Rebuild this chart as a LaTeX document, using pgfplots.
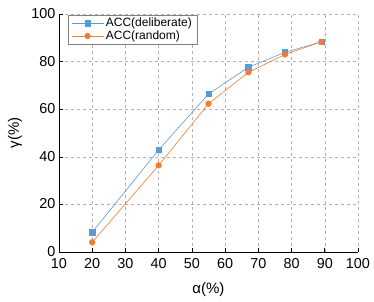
\documentclass[border=0pt]{standalone}
\usepackage{pgfplots}
\pgfplotsset{compat=1.18}
\usepackage{fontspec}
\setmainfont{Liberation Sans}
\definecolor{cblue}{RGB}{91,155,213}
\definecolor{corange}{RGB}{237,125,49}
\begin{document}
\begin{tikzpicture}
\begin{axis}[
  scale only axis,
  width=299pt, height=238pt,
  xmin=10, xmax=100, ymin=0, ymax=100,
  xtick={10,20,...,100}, ytick={0,20,...,100},
  axis lines=left,
  axis line style={-, line width=0.8pt},
  tick align=inside,
  major tick length=4pt,
  tick style={black, line width=0.6pt},
  grid=major,
  grid style={dashed, gray!60, line width=0.4pt},
  /pgf/number format/assume math mode=true,
  ticklabel style={font=\fontsize{14.4}{14.4}\selectfont},
  xticklabel style={yshift=-3pt},
  yticklabel style={yshift=0.5pt},
  xlabel={α(\%)}, ylabel={γ(\%)},
  every axis x label/.style={font=\fontsize{15}{15}\selectfont, at={(rel axis cs:0.5,0)}, yshift=-38pt, anchor=center},
  every axis y label/.style={font=\fontsize{15}{15}\selectfont, at={(rel axis cs:0,0.5)}, xshift=-44pt, rotate=90, anchor=center},
  legend style={at={(0.03,0.996)}, anchor=north west, draw=gray, line width=0.6pt,
    font=\fontsize{12}{13}\selectfont, inner xsep=3pt, inner ysep=1pt, row sep=-1.5pt},
  legend cell align=left,
  legend image code/.code={\draw[mark repeat=2,mark phase=2,#1] plot coordinates {(0pt,0pt) (16pt,0pt) (32pt,0pt)};},
]
\coordinate (sw) at (rel axis cs:0,0);
\addplot[cblue, line width=0.6pt, mark=square*, mark size=2.6pt, mark options={solid, fill=cblue}]
  coordinates {(20,8.3) (40,42.9) (55,66.4) (67,77.6) (78,83.9) (89,88.3)};
\addlegendentry{ACC(deliberate)}
\addplot[corange, line width=0.6pt, mark=*, mark size=2.8pt, mark options={solid, fill=corange}]
  coordinates {(20,4.1) (40,36.4) (55,62.3) (67,75.5) (78,83.0) (89,88.3)};
\addlegendentry{ACC(random)}
\end{axis}
\path (sw) ++(-59pt,-49pt) rectangle ++(374pt,301pt);
\end{tikzpicture}
\end{document}
